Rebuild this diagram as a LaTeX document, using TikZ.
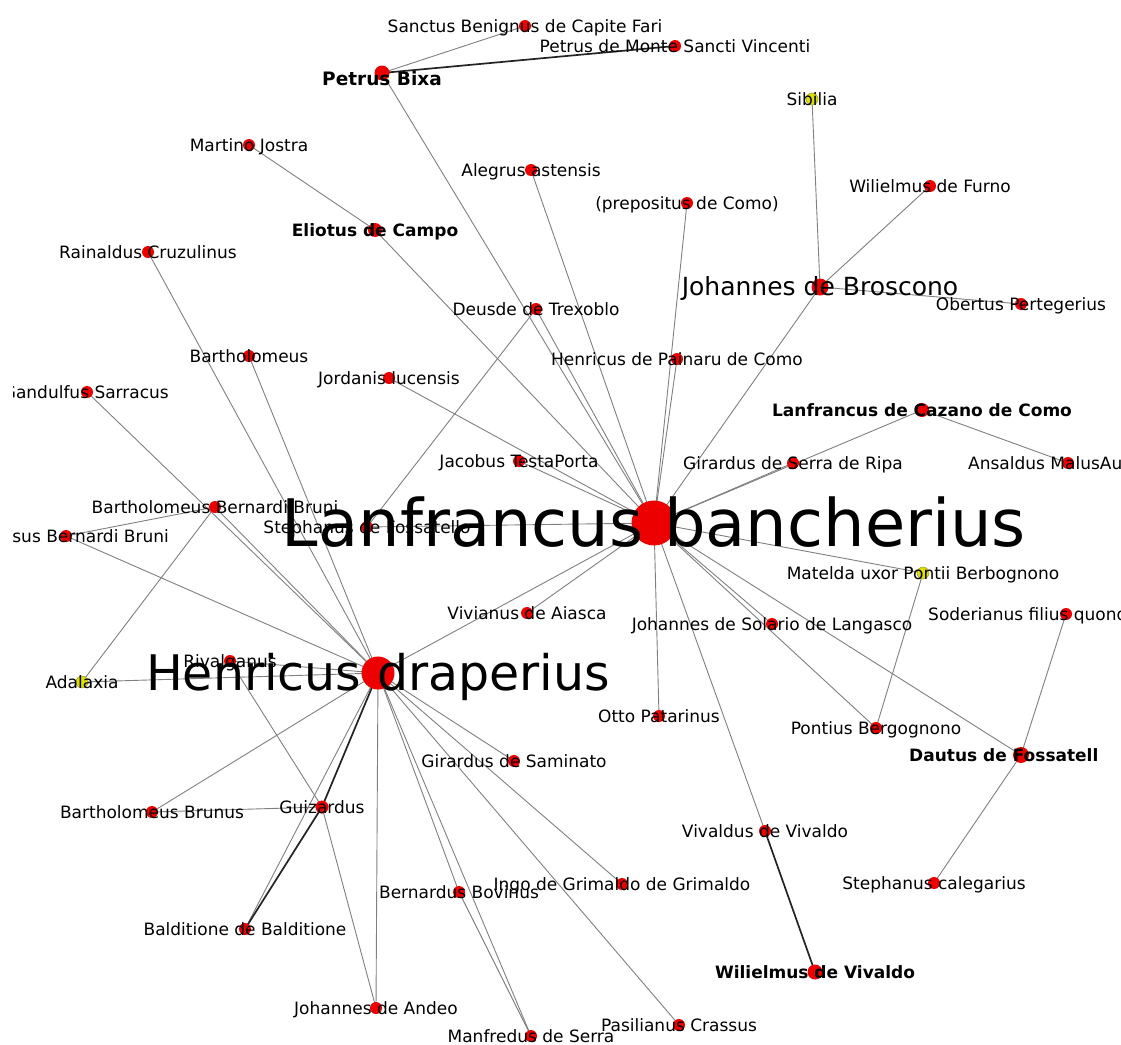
\documentclass[tikz,border=0pt]{standalone}
\usepackage{fontspec}
\setmainfont{DejaVu Sans}
\pgfdeclarelayer{edges}
\pgfsetlayers{edges,main}
\definecolor{nred}{RGB}{236,0,0}
\definecolor{nyel}{RGB}{222,222,0}
\definecolor{yedge}{RGB}{150,150,60}
\definecolor{ecol}{RGB}{128,128,128}
\definecolor{ethick}{RGB}{35,35,35}
\tikzset{
  vr/.style={circle, fill=nred, inner sep=0pt, minimum size=12pt},
  vy/.style={circle, fill=nyel, draw=yedge, line width=0.5pt, inner sep=0pt, minimum size=12pt},
  lS/.style={anchor=base, inner sep=0pt, font=\fontsize{17}{19}\selectfont, yshift=-6pt},
  lB/.style={anchor=base, inner sep=0pt, font=\bfseries\fontsize{17}{19}\selectfont, yshift=-6pt},
  lM/.style={anchor=base, inner sep=0pt, font=\fontsize{25}{28}\selectfont, yshift=-8.8pt},
  lL/.style={anchor=base, inner sep=0pt, font=\fontsize{49}{52}\selectfont, yshift=-17pt},
  lXL/.style={anchor=base, inner sep=0pt, font=\fontsize{65.5}{68}\selectfont, yshift=-23pt},
  ed/.style={draw=ecol, line width=0.9pt},
  et/.style={draw=ethick, line width=1.7pt}
}
\begin{document}
\begin{tikzpicture}[x=1pt, y=-1pt]
\useasboundingbox (0,0) rectangle (1121,1044);
\begin{pgfonlayer}{edges}
\fill[white] (0,0) rectangle (1121,1044);
\end{pgfonlayer}
\begin{scope}
\clip (13,0) rectangle (1121,1044);
% ---------- vertices ----------
\node[vr] (sb) at (525,26) {};
\node[vr] (pm) at (675,46) {};
\node[vr, minimum size=15pt] (pb) at (382,73) {};
\node[vy] (sib) at (812,99) {};
\node[vr] (mj) at (249,145) {};
\node[vr] (al) at (531,170) {};
\node[vr] (pc) at (687,203) {};
\node[vr] (wf) at (930,186) {};
\node[vr, minimum size=14pt] (ec) at (375,230) {};
\node[vr] (rc) at (148,252) {};
\node[vr, minimum size=17pt] (jb) at (820,287) {};
\node[vr] (op) at (1021,304) {};
\node[vr] (dt) at (536,309) {};
\node[vr] (ba) at (249,356) {};
\node[vr] (hp) at (677,359) {};
\node[vr] (jl) at (389,378) {};
\node[vr] (gs) at (87,392) {};
\node[vr, minimum size=14pt] (lc) at (922,410) {};
\node[vr] (jt) at (519,461) {};
\node[vr] (gr) at (793,463) {};
\node[vr] (am) at (1068,463) {};
\node[vr] (bbb) at (215,507) {};
\node[vr] (sf) at (367,527) {};
\node[vr] (sbb) at (66,536) {};
\node[vr, minimum size=45pt] (lb) at (654,523) {};
\node[vy] (mu) at (923,573) {};
\node[vr] (va) at (527,613) {};
\node[vr] (sod) at (1066,614) {};
\node[vr] (sl) at (772,624) {};
\node[vr] (rv) at (230,661) {};
\node[vr, minimum size=33pt] (hd) at (378,673) {};
\node[vy] (ad) at (82,682) {};
\node[vr] (ot) at (659,716) {};
\node[vr] (pbg) at (876,728) {};
\node[vr, minimum size=16pt] (dau) at (1021,755) {};
\node[vr] (gsm) at (514,761) {};
\node[vr] (bbr) at (152,812) {};
\node[vr, minimum size=13pt] (gz) at (322,807) {};
\node[vr] (vv) at (765,831) {};
\node[vr] (ig) at (622,884) {};
\node[vr] (bv) at (459,892) {};
\node[vr] (scg) at (934,883) {};
\node[vr] (bd) at (245,929) {};
\node[vr, minimum size=15pt] (wv) at (815,972) {};
\node[vr] (ja) at (376,1008) {};
\node[vr] (ps) at (679,1025) {};
\node[vr] (mf) at (531,1036) {};
% ---------- edges ----------
\begin{pgfonlayer}{edges}
\foreach \a/\b in {pb/sb, lb/pb, mj/ec, ec/lb, al/lb, pc/lb, hp/lb, jb/lb, sib/jb, wf/jb, op/jb,
  dt/lb, dt/sf, jl/lb, jt/lb, sf/lb, gr/lb, lc/lb, am/lc, mu/lb, mu/pbg, pbg/lb, sl/lb,
  dau/lb, sod/dau, dau/scg, ot/lb, vv/lb, va/lb, hd/lb, gs/hd, bbb/hd, sbb/hd, bbb/sbb,
  bbb/ad, ad/hd, rc/hd, ba/hd, rv/hd, rv/gz, bbr/hd, bbr/gz, hd/bd, hd/ja, gz/ja,
  hd/bv, hd/mf, bv/mf, hd/ps, hd/ig, hd/gsm}
  \draw[ed] (\a.center) -- (\b.center);
\foreach \a/\b in {pb/pm, hd/gz, gz/bd, vv/wv}
  \draw[et] (\a.center) -- (\b.center);
\end{pgfonlayer}
% ---------- labels ----------
\node[lS] (sb-t) at (sb) {Sanctus Benignus de Capite Fari};
\node[lS] (pm-t) at (pm) {Petrus de Monte Sancti Vincenti};
\node[lB, font=\bfseries\fontsize{18.5}{20}\selectfont, yshift=-6.5pt] (pb-t) at (pb) {Petrus Bixa};
\node[lS] (sib-t) at (sib) {Sibilia};
\node[lS] (mj-t) at (mj) {Martino Jostra};
\node[lS] (al-t) at (al) {Alegrus astensis};
\node[lS] (pc-t) at (pc) {(prepositus de Como)};
\node[lS] (wf-t) at (wf) {Wilielmus de Furno};
\node[lB] (ec-t) at (ec) {Eliotus de Campo};
\node[lS] (rc-t) at (rc) {Rainaldus Cruzulinus};
\node[lM] (jb-t) at (jb) {Johannes de Broscono};
\node[lS] (op-t) at (op) {Obertus Pertegerius};
\node[lS] (dt-t) at (dt) {Deusde de Trexoblo};
\node[lS] (ba-t) at (ba) {Bartholomeus};
\node[lS] (hp-t) at (hp) {Henricus de Painaru de Como};
\node[lS] (jl-t) at (jl) {Jordanis lucensis};
\node[lS, anchor=base east, xshift=82pt] (gs-t) at (gs) {Gandulfus Sarracus};
\node[lB] (lc-t) at (lc) {Lanfrancus de Cazano de Como};
\node[lS] (jt-t) at (jt) {Jacobus TestaPorta};
\node[lS] (gr-t) at (gr) {Girardus de Serra de Ripa};
\node[lS, anchor=base west, xshift=-100pt] (am-t) at (am) {Ansaldus MalusAu};
\node[lS] (bbb-t) at (bbb) {Bartholomeus Bernardi Bruni};
\node[lS] (sf-t) at (sf) {Stephanus de Fossatello};
\node[lS, anchor=base east, xshift=103pt] (sbb-t) at (sbb) {sus Bernardi Bruni};
\node[lXL] (lb-t) at (lb) {Lanfrancus bancherius};
\node[lS] (mu-t) at (mu) {Matelda uxor Pontii Berbognono};
\node[lS] (va-t) at (va) {Vivianus de Aiasca};
\node[lS, anchor=base west, xshift=-138pt] (sod-t) at (sod) {Soderianus filius quond};
\node[lS] (sl-t) at (sl) {Johannes de Solario de Langasco};
\node[lS] (rv-t) at (rv) {Rivalganus};
\node[lL] (hd-t) at (hd) {Henricus draperius};
\node[lS] (ad-t) at (ad) {Adalaxia};
\node[lS] (ot-t) at (ot) {Otto Patarinus};
\node[lS] (pbg-t) at (pbg) {Pontius Bergognono};
\node[lB, anchor=base west, xshift=-112pt] (dau-t) at (dau) {Dautus de Fossatell};
\node[lS] (gsm-t) at (gsm) {Girardus de Saminato};
\node[lS] (bbr-t) at (bbr) {Bartholomeus Brunus};
\node[lS] (gz-t) at (gz) {Guizardus};
\node[lS] (vv-t) at (vv) {Vivaldus de Vivaldo};
\node[lS] (ig-t) at (ig) {Ingo de Grimaldo de Grimaldo};
\node[lS] (bv-t) at (bv) {Bernardus Bovinus};
\node[lS] (scg-t) at (scg) {Stephanus calegarius};
\node[lS] (bd-t) at (bd) {Balditione de Balditione};
\node[lB] (wv-t) at (wv) {Wilielmus de Vivaldo};
\node[lS] (ja-t) at (ja) {Johannes de Andeo};
\node[lS] (ps-t) at (ps) {Pasilianus Crassus};
\node[lS] (mf-t) at (mf) {Manfredus de Serra};
\end{scope}
\end{tikzpicture}
\end{document}
